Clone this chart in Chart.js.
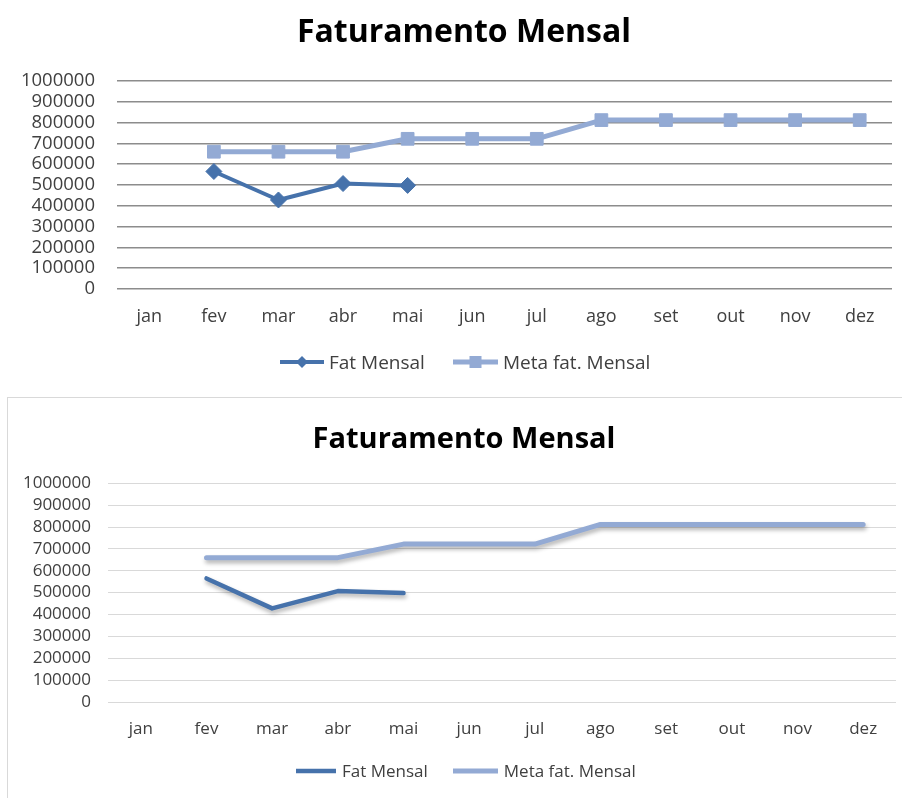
<!DOCTYPE html>
<html>
<head>
<meta charset="utf-8">
<script src="https://cdn.jsdelivr.net/npm/chart.js@4/dist/chart.umd.min.js"></script>
<style>
  html, body { margin: 0; padding: 0; background: #ffffff; overflow: hidden; }
  body { width: 902px; height: 798px; position: relative; font-family: 'Open Sans', 'DejaVu Sans', sans-serif; }
  canvas { position: absolute; }
  #topChart { left: 0; top: 0; }
  #frame { position: absolute; left: 7px; top: 397px; width: 900px; height: 420px; border: 1px solid #d9d9d9; box-sizing: border-box; }
  #bottomChart { left: 8px; top: 398px; }
  .title { position: absolute; text-align: center; font-weight: bold; color: #000; white-space: nowrap; }
  #topTitle { left: 28px; width: 872px; top: 11px; font-size: 32px; line-height: 38px; }
  #bottomTitle { left: 32px; width: 864px; top: 420px; font-size: 29px; line-height: 34px; }
  .legend { position: absolute; display: flex; align-items: center; color: #404040; white-space: nowrap; }
  .legend canvas { position: static; display: block; }
  #topLegend { left: 280px; top: 350px; font-size: 19px; line-height: 24px; }
  #bottomLegend { left: 296px; top: 759px; font-size: 17px; line-height: 24px; }
</style>
</head>
<body>
<canvas id="topChart" width="902" height="390"></canvas>
<div id="frame"></div>
<canvas id="bottomChart" width="893" height="400"></canvas>
<div id="topTitle" class="title"></div>
<div id="bottomTitle" class="title"></div>
<div id="topLegend" class="legend"></div>
<div id="bottomLegend" class="legend"></div>
<script>
// Monthly revenue vs. monthly target
const months = ['jan', 'fev', 'mar', 'abr', 'mai', 'jun', 'jul', 'ago', 'set', 'out', 'nov', 'dez'];
const fatMensal = [null, 565000, 428000, 507000, 498000, null, null, null, null, null, null, null];
const metaFatMensal = [null, 660000, 660000, 660000, 722000, 722000, 722000, 812000, 812000, 812000, 812000, 812000];
const seriesNames = ['Fat Mensal', 'Meta fat. Mensal'];
const chartTitle = 'Faturamento Mensal';
const yMin = 0;
const yMax = 1000000;
const yStep = 100000;

const FAT_COLOR = '#4672ab';
const META_COLOR = '#93aad4';
const FONT = "'Open Sans', 'DejaVu Sans', sans-serif";

// Legend swatch: a short line segment with an optional marker in the middle
function makeSwatch(color, lineWidth, width, marker) {
  const c = document.createElement('canvas');
  c.width = width; c.height = 18;
  const g = c.getContext('2d');
  g.strokeStyle = color; g.fillStyle = color; g.lineWidth = lineWidth;
  g.beginPath(); g.moveTo(0, 9); g.lineTo(width, 9); g.stroke();
  const cx = width / 2;
  if (marker === 'diamond') {
    g.beginPath(); g.moveTo(cx - 6, 9); g.lineTo(cx, 3); g.lineTo(cx + 6, 9); g.lineTo(cx, 15); g.closePath(); g.fill();
  } else if (marker === 'square') {
    g.fillRect(cx - 6, 3, 12, 12);
  }
  return c;
}

// HTML legend built from the chart's datasets
function buildLegend(el, chart, swatches, textGap, itemGap) {
  chart.data.datasets.forEach((ds, i) => {
    const sw = swatches[i];
    if (i > 0) sw.style.marginLeft = itemGap + 'px';
    el.appendChild(sw);
    const t = document.createElement('span');
    t.textContent = ds.label;
    t.style.marginLeft = textGap + 'px';
    el.appendChild(t);
  });
}

const lineShadow = {
  id: 'lineShadow',
  beforeDatasetsDraw(chart) {
    const c = chart.ctx;
    c.save();
    c.shadowColor = 'rgba(0,0,0,0.30)';
    c.shadowBlur = 4;
    c.shadowOffsetX = 1;
    c.shadowOffsetY = 3;
  },
  afterDatasetsDraw(chart) { chart.ctx.restore(); }
};

function buildChart(canvasId, cfg) {
  return new Chart(document.getElementById(canvasId), {
    type: 'line',
    data: {
      labels: months,
      datasets: [
        {
          label: seriesNames[0], data: fatMensal,
          borderColor: FAT_COLOR, backgroundColor: FAT_COLOR,
          borderWidth: cfg.fatWidth, pointStyle: 'rectRot',
          borderCapStyle: 'round', borderJoinStyle: 'round',
          pointRadius: cfg.markers ? 8 : 0, pointBorderWidth: 1,
          pointBorderColor: FAT_COLOR, pointBackgroundColor: FAT_COLOR,
          tension: 0, spanGaps: false
        },
        {
          label: seriesNames[1], data: metaFatMensal,
          borderColor: META_COLOR, backgroundColor: META_COLOR,
          borderWidth: cfg.metaWidth, pointStyle: 'rect',
          borderCapStyle: 'round', borderJoinStyle: 'round',
          pointRadius: cfg.markers ? 9 : 0, pointBorderWidth: 1,
          pointBorderColor: META_COLOR, pointBackgroundColor: META_COLOR,
          tension: 0, spanGaps: false
        }
      ]
    },
    options: {
      responsive: false,
      animation: false,
      devicePixelRatio: 1,
      layout: { padding: { left: 0, right: cfg.padRight, top: cfg.padTop, bottom: cfg.padBottom } },
      plugins: {
        title: { display: false },
        legend: { display: false },
        tooltip: { enabled: false }
      },
      scales: {
        x: {
          offset: true,
          grid: { display: false, drawTicks: false, offset: true },
          border: { display: false },
          ticks: { color: '#404040', padding: cfg.xPad, autoSkip: false, maxRotation: 0, font: { family: FONT, size: cfg.fontSize } },
          afterFit(scale) { scale.height = cfg.xHeight; }
        },
        y: {
          min: yMin, max: yMax,
          grid: { color: cfg.gridColor, lineWidth: cfg.gridWidth, drawTicks: false },
          border: { display: false },
          ticks: {
            stepSize: yStep, autoSkip: false, color: '#404040', padding: cfg.yPad,
            font: { family: FONT, size: cfg.yFontSize },
            callback: (v) => String(v)
          },
          afterFit(scale) { scale.width = cfg.yWidth; }
        }
      }
    },
    plugins: cfg.shadow ? [lineShadow] : []
  });
}

document.getElementById('topTitle').textContent = chartTitle;
document.getElementById('bottomTitle').textContent = chartTitle;

// Upper chart: lines with markers, darker gridlines
const topChart = buildChart('topChart', {
  markers: true, shadow: false, fatWidth: 4, metaWidth: 5,
  gridColor: '#8c8c8c', gridWidth: 1.5,
  fontSize: 18, yFontSize: 18.5, xPad: 17, xHeight: 40, yPad: 22, yWidth: 117,
  padTop: 81, padRight: 2, padBottom: 61
});
buildLegend(document.getElementById('topLegend'), topChart,
  [makeSwatch(FAT_COLOR, 4, 44, 'diamond'), makeSwatch(META_COLOR, 5, 45, 'square')], 5, 28);

// Lower chart: plain lines with a soft shadow, light gridlines
const bottomChart = buildChart('bottomChart', {
  markers: false, shadow: true, fatWidth: 4.5, metaWidth: 5,
  gridColor: '#d9d9d9', gridWidth: 1,
  fontSize: 17, yFontSize: 17, xPad: 17, xHeight: 40, yPad: 17, yWidth: 100,
  padTop: 85.3, padRight: 5, padBottom: 56
});
buildLegend(document.getElementById('bottomLegend'), bottomChart,
  [makeSwatch(FAT_COLOR, 4.5, 40, null), makeSwatch(META_COLOR, 5, 45, null)], 6, 25);
</script>
</body>
</html>
